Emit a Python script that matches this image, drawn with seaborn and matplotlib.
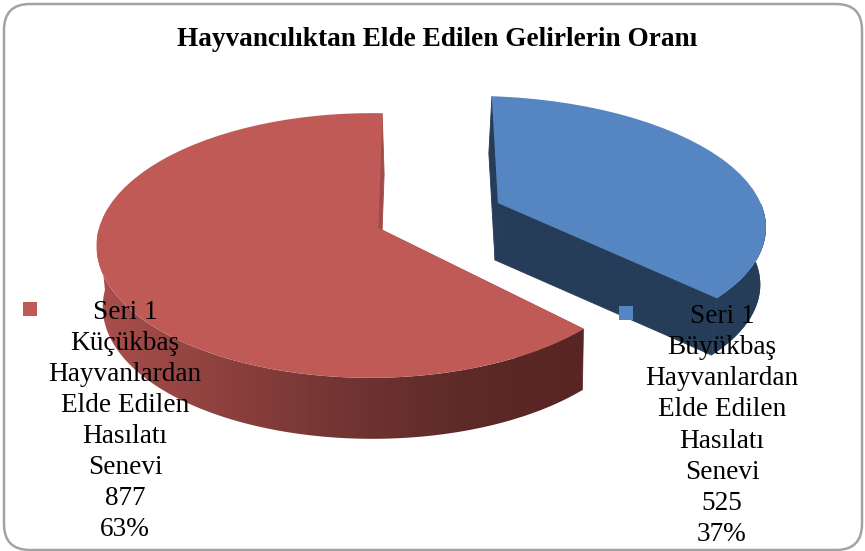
# Exploded 3D style pie of livestock income
import numpy as np
import seaborn as sns
import matplotlib
matplotlib.use("Agg")
import matplotlib.pyplot as plt
from matplotlib.patches import FancyBboxPatch, Polygon
from matplotlib.transforms import Transform

title = "Hayvancılıktan Elde Edilen Gelirlerin Oranı"
values = [877, 525]
percents = ["63%", "37%"]
series_name = "Seri 1"
categories = ["Küçükbaş\nHayvanlardan\nElde Edilen\nHasılatı\nSenevi",
              "Büyükbaş\nHayvanlardan\nElde Edilen\nHasılatı\nSenevi"]

top_colors = ["#C05A57", "#5686C1"]
rim_colors = [["#A94F4C", "#8E413E", "#723533", "#5E2A28", "#582522"], ["#263D59", "#263D59"]]
wall_colors = ["#A34B48", "#263D59"]

# projection of the unit disc on the picture, per slice
geom = [dict(cx=378, cy=228, a=272, b=130, k=0.132, m=0.025, s=0, depth=61, dx=2, scale=0.985),
        dict(cx=498, cy=203, a=281, b=124, k=0.16, m=0.07, s=-12, depth=57, dx=-3, scale=0.99)]


class Tilt(Transform):
    input_dims = 2
    output_dims = 2

    def __init__(self, cx, cy, a, b, k, m, s, **kw):
        super().__init__()
        self.p = (cx, cy, a, b, k, m, s)

    def transform_non_affine(self, xy):
        cx, cy, a, b, k, m, s = self.p
        xy = np.asarray(xy)
        w = 1 + k * xy[:, 1] + m * xy[:, 0]
        return np.column_stack([cx + (a * xy[:, 0] + s * xy[:, 1]) / w, cy - b * xy[:, 1] / w])


def bottom_tilt(g):
    return Tilt(g["cx"] + g["dx"], g["cy"] + g["depth"], g["a"] * g["scale"], g["b"],
                g["k"], g["m"], g["s"])


def disc(th):
    return np.column_stack([np.cos(th), np.sin(th)])


if __name__ == "__main__":
    sns.set_style("white")
    fig = plt.figure(figsize=(8.65, 5.51), dpi=100)
    ax = fig.add_axes([0, 0, 1, 1])

    wedges, _ = ax.pie(values, colors=top_colors, startangle=89, counterclock=True,
                       wedgeprops=dict(linewidth=0))
    ax.set_aspect("auto")
    ax.set_xlim(0, 865)
    ax.set_ylim(551, 0)
    ax.axis("off")

    ax.add_patch(FancyBboxPatch((4, 4), 858, 546, boxstyle="round,pad=0,rounding_size=26",
                                fc="white", ec="#A3A3A3", lw=1.8, zorder=0))

    for i, (w, g) in enumerate(zip(wedges, geom)):
        up = Tilt(**g)
        down = bottom_tilt(g)
        th = np.radians(np.linspace(w.theta1, w.theta2, 400))
        apex = np.zeros((1, 2))
        up_rim = up.transform_non_affine(disc(th))
        down_rim = down.transform_non_affine(disc(th))
        up_apex = up.transform_non_affine(apex)
        down_apex = down.transform_non_affine(apex)

        # straight walls, behind the top face
        for edge in (0, -1):
            quad = np.vstack([up_apex, up_rim[[edge]], down_rim[[edge]], down_apex])
            ax.add_patch(Polygon(quad, fc=wall_colors[i], ec=wall_colors[i], lw=0.6, zorder=2))

        # front rim with a left to right gradient
        front = np.sin(th) <= 0
        rim = np.vstack([up_rim[front], down_rim[front][::-1]])
        if i == 1:
            # flat colour under the blue rim hides the seam at the wall
            ax.add_patch(Polygon(rim, fc=wall_colors[i], ec="none", zorder=2))
        shape = Polygon(rim, fc="none", ec="none")
        ax.add_patch(shape)
        grad = np.array(sns.blend_palette(rim_colors[i], 256))[None, :, :3]
        im = ax.imshow(grad, extent=[up_rim[front, 0].min(), up_rim[front, 0].max(), 551, 0],
                       aspect="auto", zorder=3, interpolation="bilinear")
        im.set_clip_path(shape)

        w.set_transform(up + ax.transData)
        w.set_zorder(4)

    ax.set_xlim(0, 865)
    ax.set_ylim(551, 0)

    txt = dict(family="Liberation Serif", color="black", ha="center", va="center", zorder=6)
    ax.text(437, 39, title, fontsize=19.6, fontweight="bold", **txt)

    label_x = [125, 722]
    label_y = [421, 425.5]
    marker_x = [30, 626]
    marker_y = [309, 312.5]
    for i in range(2):
        label = f"{series_name}\n{categories[i]}\n{values[i]}\n{percents[i]}"
        ax.text(label_x[i], label_y[i], label, fontsize=19.6, linespacing=1.32, **txt)
        ax.scatter(marker_x[i], marker_y[i], marker="s", s=95, color=top_colors[i],
                   linewidths=0, zorder=5)

    fig.savefig("out.png", dpi=100)
